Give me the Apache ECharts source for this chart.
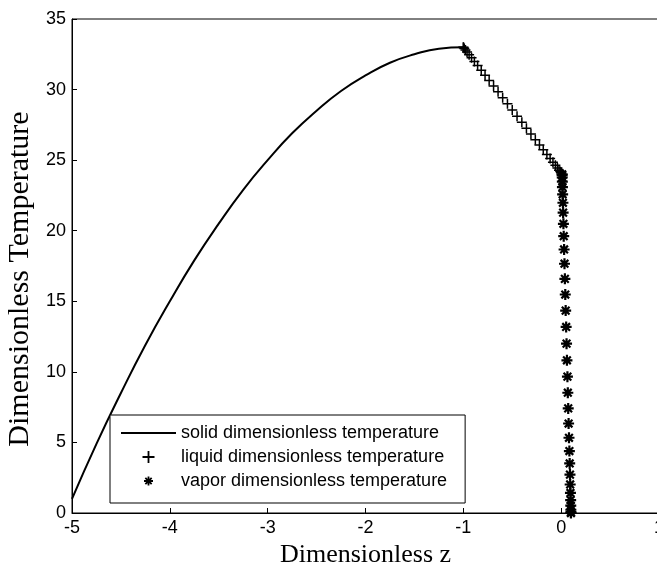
<!DOCTYPE html>
<html>
<head>
<meta charset="utf-8">
<script src="https://cdn.jsdelivr.net/npm/echarts@6/dist/echarts.min.js"></script>
<style>
html,body{margin:0;padding:0;background:#fff;}
#chart{width:657px;height:572px;}
</style>
</head>
<body>
<div id="chart"></div>
<script>
// ---- data ----
var xTicks = [-5, -4, -3, -2, -1, 0, 1];
var yTicks = [0, 5, 10, 15, 20, 25, 30, 35];

var solidX = [-5, -4.75, -4.5, -4.25, -4, -3.75, -3.5, -3.25, -3, -2.75, -2.5, -2.25, -2, -1.75, -1.5, -1.25, -1];
var solidY = [1, 4.9, 8.5, 11.9, 15, 17.9, 20.5, 22.9, 25, 26.9, 28.5, 29.9, 31, 31.9, 32.5, 32.9, 33];

var liquidX = [-1.000, -0.998, -0.990, -0.978, -0.962, -0.941, -0.916, -0.887, -0.854, -0.817, -0.778,
  -0.736, -0.691, -0.645, -0.598, -0.549, -0.500, -0.451, -0.402, -0.355, -0.309, -0.264, -0.222,
  -0.183, -0.146, -0.113, -0.084, -0.059, -0.038, -0.022, -0.010, -0.002, 0.000];
var liquidY = [33.00, 32.98, 32.91, 32.81, 32.66, 32.47, 32.25, 31.99, 31.70, 31.37, 31.02,
  30.65, 30.25, 29.84, 29.42, 28.99, 28.55, 28.11, 27.68, 27.26, 26.85, 26.45, 26.08,
  25.73, 25.40, 25.11, 24.85, 24.63, 24.44, 24.29, 24.19, 24.12, 24.10];

var vaporX = [0.010, 0.010, 0.011, 0.012, 0.013, 0.015, 0.018, 0.020, 0.023, 0.026, 0.030,
  0.034, 0.038, 0.042, 0.046, 0.051, 0.055, 0.059, 0.064, 0.068, 0.072, 0.076, 0.080,
  0.084, 0.087, 0.090, 0.092, 0.095, 0.097, 0.098, 0.099, 0.100, 0.100];
var vaporY = [24.00, 23.94, 23.77, 23.48, 23.09, 22.58, 21.98, 21.28, 20.49, 19.61, 18.67,
  17.66, 16.59, 15.48, 14.34, 13.18, 12.00, 10.82, 9.66, 8.52, 7.41, 6.34, 5.33,
  4.39, 3.51, 2.72, 2.02, 1.42, 0.91, 0.52, 0.23, 0.06, 0.00];

var seriesNames = ['solid dimensionless temperature', 'liquid dimensionless temperature', 'vapor dimensionless temperature'];
var xName = 'Dimensionless z';
var yName = 'Dimensionless Temperature';

function zip(a, b) { return a.map(function (v, i) { return [v, b[i]]; }); }

var PLUS_BODY = 'M8.5,0H11.5V8.5H20V11.5H11.5V20H8.5V11.5H0V8.5H8.5Z';
var STAR_BODY = 'M8,0H12V8H20V12H12V20H8V12H0V8H8Z' +
  'M4.41,1.59L18.41,15.59L15.59,18.41L1.59,4.41Z' +
  'M15.59,1.59L18.41,4.41L4.41,18.41L1.59,15.59Z';
var PLUS = 'path://' + PLUS_BODY;
var STAR = 'path://' + STAR_BODY;
var PLUS_LEG = 'path://M-5,-5M25,25' + PLUS_BODY;
var STAR_LEG = 'path://M-10,-10M30,30' + STAR_BODY;
var LINE_LEG = 'path://M0,0H55V2H0Z';

var chart = echarts.init(document.getElementById('chart'), null, { renderer: 'canvas' });
var axisText = { color: '#000', fontFamily: 'Liberation Sans, Arial, sans-serif', fontSize: 18 };

chart.setOption({
  animation: false,
  backgroundColor: '#fff',
  grid: {
    left: 72, top: 19, right: -2, bottom: 59,
    containLabel: false, outerBoundsMode: 'none',
    show: true, borderColor: '#000', borderWidth: 1, backgroundColor: 'transparent'
  },
  xAxis: {
    type: 'value', min: xTicks[0], max: xTicks[xTicks.length - 1], interval: 1,
    name: xName, nameLocation: 'middle', nameGap: 26,
    nameTextStyle: { color: '#000', fontFamily: 'Liberation Serif, Times New Roman, serif', fontSize: 26 },
    axisLine: { show: true, onZero: false, lineStyle: { color: '#000', width: 1 } },
    axisTick: { show: true, inside: true, length: 5, lineStyle: { color: '#000' } },
    axisLabel: Object.assign({ margin: 6, showMaxLabel: true, showMinLabel: true, hideOverlap: false }, axisText),
    splitLine: { show: false }
  },
  yAxis: {
    type: 'value', min: yTicks[0], max: yTicks[yTicks.length - 1], interval: 5,
    name: yName, nameLocation: 'middle', nameGap: 32,
    nameTextStyle: { color: '#000', fontFamily: 'Liberation Serif, Times New Roman, serif', fontSize: 30, padding: [0, 26, 0, 0] },
    axisLine: { show: true, onZero: false, lineStyle: { color: '#000', width: 1 } },
    axisTick: { show: true, inside: true, length: 5, lineStyle: { color: '#000' } },
    axisLabel: Object.assign({ margin: 6 }, axisText),
    splitLine: { show: false }
  },
  legend: {
    orient: 'vertical', left: 110, top: 415,
    padding: [9, 18, 13, 11],
    itemWidth: 55, itemHeight: 18, itemGap: 6,
    borderColor: '#000', borderWidth: 1, backgroundColor: '#fff',
    textStyle: { color: '#000', fontFamily: 'Liberation Sans, Arial, sans-serif', fontSize: 18 },
    data: [
      { name: seriesNames[0], icon: LINE_LEG },
      { name: seriesNames[1], icon: PLUS_LEG },
      { name: seriesNames[2], icon: STAR_LEG }
    ]
  },
  series: [
    {
      name: seriesNames[0], type: 'line', data: zip(solidX, solidY), smooth: true,
      symbol: 'none', showSymbol: false, clip: false,
      lineStyle: { color: '#000', width: 2 }, itemStyle: { color: '#000' }, z: 2
    },
    {
      name: seriesNames[1], type: 'scatter', data: zip(liquidX, liquidY),
      symbol: PLUS, symbolSize: 10, itemStyle: { color: '#000', opacity: 1 }, z: 3
    },
    {
      name: seriesNames[2], type: 'scatter', data: zip(vaporX, vaporY),
      symbol: STAR, symbolSize: 11, itemStyle: { color: '#000', opacity: 1 }, z: 3
    }
  ]
});
</script>
</body>
</html>
